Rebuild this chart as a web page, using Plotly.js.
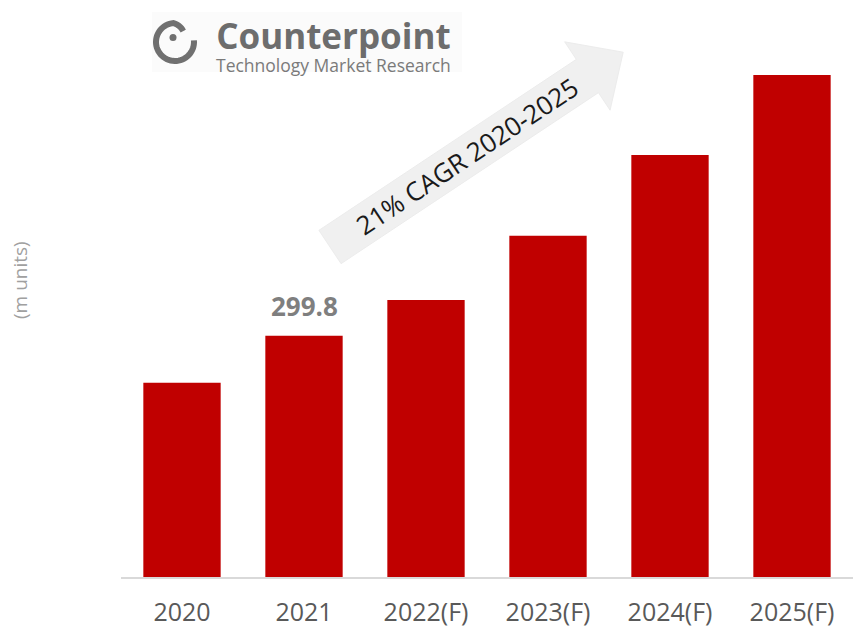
<!DOCTYPE html>
<html>
<head>
<meta charset="utf-8">
<script src="https://cdn.plot.ly/plotly-3.0.1.min.js"></script>
<style>html,body{margin:0;padding:0;background:#fff;}#chart{width:854px;height:643px;}</style>
</head>
<body>
<div id="chart"></div>
<script>
// ---- data ----
var years = ["2020", "2021", "2022(F)", "2023(F)", "2024(F)", "2025(F)"];
var shipments = [241.4, 299.8, 344.1, 424.0, 524.3, 623.7];
var labelYear = "2021";
var labelValue = 299.8;
var cagrText = "21% CAGR 2020-2025";
var yTitle = "(m units)";
var brandName = "Counterpoint";
var brandTagline = "Technology Market Research";

// ---- layout geometry ----
var W = 854, H = 643;
var M = {l: 121, r: 1, t: 10, b: 66};
var PW = W - M.l - M.r, PH = H - M.t - M.b;
function px(x) { return (x - M.l) / PW; }
function py(y) { return (H - M.b - y) / PH; }
function pathFrom(pts, close) {
  var s = pts.map(function (p, i) { return (i ? "L" : "M") + px(p[0]).toFixed(5) + "," + py(p[1]).toFixed(5); }).join(" ");
  return close ? s + " Z" : s;
}

// arrow (decoration), defined in pixels
var ang = 33.6 * Math.PI / 180;
var d = [Math.cos(ang), -Math.sin(ang)], n = [Math.sin(ang), Math.cos(ang)];
var C = [330, 247];
function at(t, w) { return [C[0] + t * d[0] + w * n[0], C[1] + t * d[1] + w * n[1]]; }
var arrowPts = [at(0, -20), at(0, 20), at(309, 20), at(309, 41), at(352, 0), at(309, -41), at(309, -20)];

// logo ring (spiral)
var ring = [];
var cx = 175, cy = 42;
for (var a = 5; a >= -312; a -= 6) {
  var r = a > -265 ? 19 : 19 - (-265 - a) / 47 * 6;
  var rad = a * Math.PI / 180;
  ring.push([cx + r * Math.cos(rad), cy - r * Math.sin(rad)]);
}

var trace = {
  type: "bar",
  x: years,
  y: shipments,
  marker: {color: "#c00000"},
  hoverinfo: "x+y"
};

function ann(x, y, text, size, color, extra) {
  var o = {x: px(x), y: py(y), xref: "paper", yref: "paper", text: text, showarrow: false,
           xanchor: "center", yanchor: "middle", borderpad: 0,
           font: {size: size, color: color, family: "Open Sans, sans-serif"}};
  for (var k in extra) o[k] = extra[k];
  return o;
}

var logoText = "<span style='font-size:35px;color:#6d6d6d'><b>" + brandName + "</b></span><br>" + brandTagline;

var layout = {
  width: W, height: H,
  margin: {l: M.l, r: M.r, t: M.t, b: M.b},
  paper_bgcolor: "#ffffff",
  plot_bgcolor: "#ffffff",
  bargap: 0.366,
  showlegend: false,
  font: {family: "Open Sans, sans-serif"},
  xaxis: {
    type: "category",
    range: [-0.5, years.length - 0.5],
    showline: true, linecolor: "#d9d9d9", linewidth: 2,
    ticks: "", showgrid: false, zeroline: false,
    tickfont: {size: 25, color: "#595959", family: "Open Sans, sans-serif"},
    ticklabelstandoff: 12
  },
  yaxis: {
    range: [0, PH * 299.8 / 241.3],
    showticklabels: false, showgrid: false, zeroline: false, showline: false, ticks: ""
  },
  shapes: [
    {type: "rect", xref: "paper", yref: "paper", x0: px(152), x1: px(462), y0: py(72), y1: py(12),
     fillcolor: "#fbfbfb", line: {width: 0}, layer: "below"},
    {type: "path", xref: "paper", yref: "paper", path: pathFrom(arrowPts, true),
     fillcolor: "#f0f0f0", line: {color: "#ececec", width: 1}, layer: "above"},
    {type: "path", xref: "paper", yref: "paper", path: pathFrom(ring, false),
     line: {color: "#707070", width: 6}},
    {type: "circle", xref: "paper", yref: "paper", x0: px(169.5), x1: px(176.5), y0: py(41), y1: py(34),
     fillcolor: "#707070", line: {width: 0}}
  ],
  annotations: [
    {x: years.indexOf(labelYear), y: labelValue, xref: "x", yref: "y", text: "<b>" + labelValue.toFixed(1) + "</b>",
     showarrow: false, xanchor: "center", yanchor: "bottom", yshift: 10,
     font: {size: 26, color: "#7f7f7f", family: "Open Sans, sans-serif"}},
    ann(467, 156, cagrText, 26, "#1a1a1a", {textangle: -33.6}),
    ann(20, 280, yTitle, 19, "#a0a0a0", {textangle: -90}),
    ann(333, 44, logoText, 17.5, "#7a7a7a", {align: "center"})
  ]
};

Plotly.newPlot("chart", [trace], layout, {displayModeBar: false, staticPlot: true});
</script>
</body>
</html>
